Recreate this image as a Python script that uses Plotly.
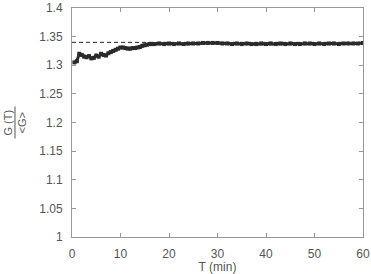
import plotly.graph_objects as go

T = [0.5, 1, 1.5, 2, 2.5, 3, 3.5, 4, 4.5, 5, 5.5, 6, 6.5, 7, 7.5, 8, 8.5, 9, 9.5, 10,
     10.5, 11, 11.5, 12, 12.5, 13, 13.5, 14, 14.5, 15, 15.5, 16, 16.5, 17, 18, 19, 20,
     21, 22, 23, 24, 25, 26, 27, 28, 29, 30, 31, 32, 33, 34, 35, 36, 37, 38, 39, 40,
     41, 42, 43, 44, 45, 46, 47, 48, 49, 50, 51, 52, 53, 54, 55, 56, 57, 58, 59, 60]
G = [1.305, 1.307, 1.320, 1.318, 1.315, 1.314, 1.316, 1.312, 1.313, 1.317, 1.315, 1.320,
     1.318, 1.317, 1.321, 1.323, 1.325, 1.327, 1.329, 1.331, 1.331, 1.330, 1.329, 1.329,
     1.330, 1.330, 1.331, 1.332, 1.334, 1.335, 1.336, 1.337, 1.337, 1.337, 1.338, 1.337,
     1.338, 1.337, 1.338, 1.337, 1.338, 1.338, 1.338, 1.339, 1.339, 1.339, 1.339, 1.338,
     1.338, 1.337, 1.338, 1.337, 1.338, 1.337, 1.337, 1.338, 1.337, 1.338, 1.337, 1.338,
     1.337, 1.338, 1.337, 1.337, 1.338, 1.338, 1.337, 1.338, 1.337, 1.338, 1.338, 1.337,
     1.338, 1.338, 1.338, 1.338, 1.339]
ref_level = 1.34
x_ticks = [0, 10, 20, 30, 40, 50, 60]
y_ticks = [1, 1.05, 1.1, 1.15, 1.2, 1.25, 1.3, 1.35, 1.4]
y_labels = ["1", "1.05", "1.1", "1.15", "1.2", "1.25", "1.3", "1.35", "1.4"]

fig = go.Figure()
fig.add_trace(go.Scatter(x=[0, 60], y=[ref_level, ref_level], mode="lines",
                         line=dict(color="#222", width=1, dash="4px,3px"), hoverinfo="skip"))
fig.add_trace(go.Scatter(x=T, y=G, mode="lines+markers",
                         line=dict(color="#2a2a2a", width=3),
                         marker=dict(color="#2a2a2a", size=4, symbol="square")))

axis_font = dict(family="Liberation Sans, Arial, sans-serif", size=12, color="#555")
label_font = dict(family="Liberation Sans, Arial, sans-serif", size=11, color="#555")
fig.update_layout(
    width=371, height=274,
    margin=dict(l=72, r=8, t=8, b=37),
    paper_bgcolor="white", plot_bgcolor="white",
    showlegend=False,
    font=axis_font,
    xaxis=dict(range=[0, 60], tickvals=x_ticks, ticks="inside", ticklen=4, tickcolor="#999",
               showgrid=False, zeroline=False, showline=True, linecolor="#999", linewidth=1,
               mirror="ticks", tickfont=axis_font, ticklabelstandoff=6, automargin=False,
               title=dict(text="T (min)", font=axis_font, standoff=3)),
    yaxis=dict(range=[1, 1.4], tickvals=y_ticks, ticktext=y_labels, ticks="inside", ticklen=4,
               tickcolor="#999", showgrid=False, zeroline=False, showline=True, linecolor="#999",
               linewidth=1, mirror="ticks", tickfont=axis_font, ticklabelstandoff=6,
               automargin=False),
)
fx = -0.1959
fig.add_annotation(xref="paper", yref="paper", x=fx, y=0.5, text="G (T)",
                   showarrow=False, textangle=-90, font=label_font, xanchor="center", yanchor="middle",
                   xshift=-7, borderpad=0)
fig.add_annotation(xref="paper", yref="paper", x=fx, y=0.5, text="&lt;G&gt;",
                   showarrow=False, textangle=-90, font=label_font, xanchor="center", yanchor="middle",
                   xshift=7, borderpad=0)
fig.add_shape(type="line", xref="paper", yref="paper", x0=fx, x1=fx, y0=0.43, y1=0.57,
              line=dict(color="#555", width=1))
fig.write_html("out.html")
